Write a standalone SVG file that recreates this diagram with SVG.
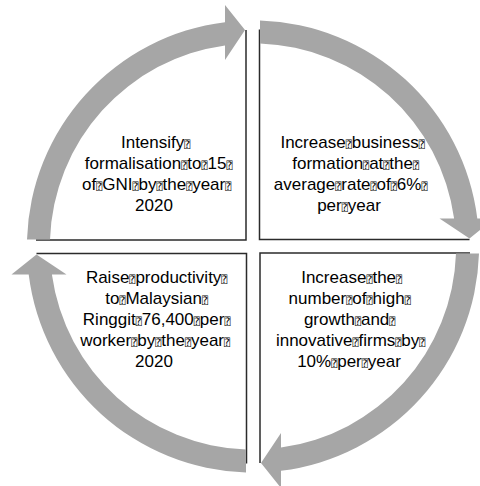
<svg xmlns="http://www.w3.org/2000/svg" xmlns:xlink="http://www.w3.org/1999/xlink" width="480" height="486" viewBox="0 0 480 486">
  <style>
    .edge { fill: none; stroke: #2b2b2b; stroke-width: 1.5; }
    .arrow { fill: #a6a6a6; stroke: none; }
    .lbl { font-family: "Liberation Sans", Arial, sans-serif; font-size: 17px; fill: #000000; text-anchor: middle; }
    .nd { font-family: "DejaVu Sans Mono", monospace; font-size: 10px; }
  </style>
  <defs>
    <path id="arc-arrow" class="arrow" d="M 27 239.5 A 226 226 0 0 1 225 22.2 L 225 5 L 245 30 L 225 60 L 225 45.4 A 203 203 0 0 0 50 239.5 Z"/>
  </defs>
  <rect x="0" y="0" width="480" height="486" fill="#ffffff"/>

  <g id="node-formalisation">
    <path class="edge" d="M 246 30 L 246 240 L 36 240"/>
    <text class="lbl">
      <tspan x="158" y="148.3">Intensify<tspan class="nd">⍰</tspan></tspan>
      <tspan x="161" y="169.2">formalisation<tspan class="nd">⍰</tspan>to<tspan class="nd">⍰</tspan>15<tspan class="nd">⍰</tspan></tspan>
      <tspan x="159" y="190">of<tspan class="nd">⍰</tspan>GNI<tspan class="nd">⍰</tspan>by<tspan class="nd">⍰</tspan>the<tspan class="nd">⍰</tspan>year<tspan class="nd">⍰</tspan></tspan>
      <tspan x="154" y="210.8">2020</tspan>
    </text>
  </g>

  <g id="node-business">
    <path class="edge" d="M 469.5 239.5 L 259.5 239.5 L 259.5 29.5"/>
    <text class="lbl">
      <tspan x="355" y="148.3">Increase<tspan class="nd">⍰</tspan>business<tspan class="nd">⍰</tspan></tspan>
      <tspan x="358" y="169.2">formation<tspan class="nd">⍰</tspan>at<tspan class="nd">⍰</tspan>the<tspan class="nd">⍰</tspan></tspan>
      <tspan x="353" y="190">average<tspan class="nd">⍰</tspan>rate<tspan class="nd">⍰</tspan>of<tspan class="nd">⍰</tspan>6%<tspan class="nd">⍰</tspan></tspan>
      <tspan x="349" y="210.8">per<tspan class="nd">⍰</tspan>year</tspan>
    </text>
  </g>

  <g id="node-innovative">
    <path class="edge" d="M 260 463 L 260 253 L 470 253"/>
    <text class="lbl">
      <tspan x="354" y="283.3">Increase<tspan class="nd">⍰</tspan>the<tspan class="nd">⍰</tspan></tspan>
      <tspan x="352" y="304.1">number<tspan class="nd">⍰</tspan>of<tspan class="nd">⍰</tspan>high<tspan class="nd">⍰</tspan></tspan>
      <tspan x="352" y="324.9">growth<tspan class="nd">⍰</tspan>and<tspan class="nd">⍰</tspan></tspan>
      <tspan x="353" y="345.7">innovative<tspan class="nd">⍰</tspan>firms<tspan class="nd">⍰</tspan>by<tspan class="nd">⍰</tspan></tspan>
      <tspan x="349" y="366.5">10%<tspan class="nd">⍰</tspan>per<tspan class="nd">⍰</tspan>year</tspan>
    </text>
  </g>

  <g id="node-productivity">
    <path class="edge" d="M 36.5 253.5 L 246.5 253.5 L 246.5 463.5"/>
    <text class="lbl">
      <tspan x="159" y="283.3">Raise<tspan class="nd">⍰</tspan>productivity<tspan class="nd">⍰</tspan></tspan>
      <tspan x="159" y="304.1">to<tspan class="nd">⍰</tspan>Malaysian<tspan class="nd">⍰</tspan></tspan>
      <tspan x="159" y="324.9">Ringgit<tspan class="nd">⍰</tspan>76,400<tspan class="nd">⍰</tspan>per<tspan class="nd">⍰</tspan></tspan>
      <tspan x="157.5" y="345.7">worker<tspan class="nd">⍰</tspan>by<tspan class="nd">⍰</tspan>the<tspan class="nd">⍰</tspan>year<tspan class="nd">⍰</tspan></tspan>
      <tspan x="154" y="366.5">2020</tspan>
    </text>
  </g>

  <g id="connectors">
    <use xlink:href="#arc-arrow" href="#arc-arrow"/>
    <use xlink:href="#arc-arrow" href="#arc-arrow" transform="rotate(90 253 246.5)"/>
    <use xlink:href="#arc-arrow" href="#arc-arrow" transform="rotate(180 253 246.5)"/>
    <use xlink:href="#arc-arrow" href="#arc-arrow" transform="rotate(270 253 246.5)"/>
  </g>
</svg>
